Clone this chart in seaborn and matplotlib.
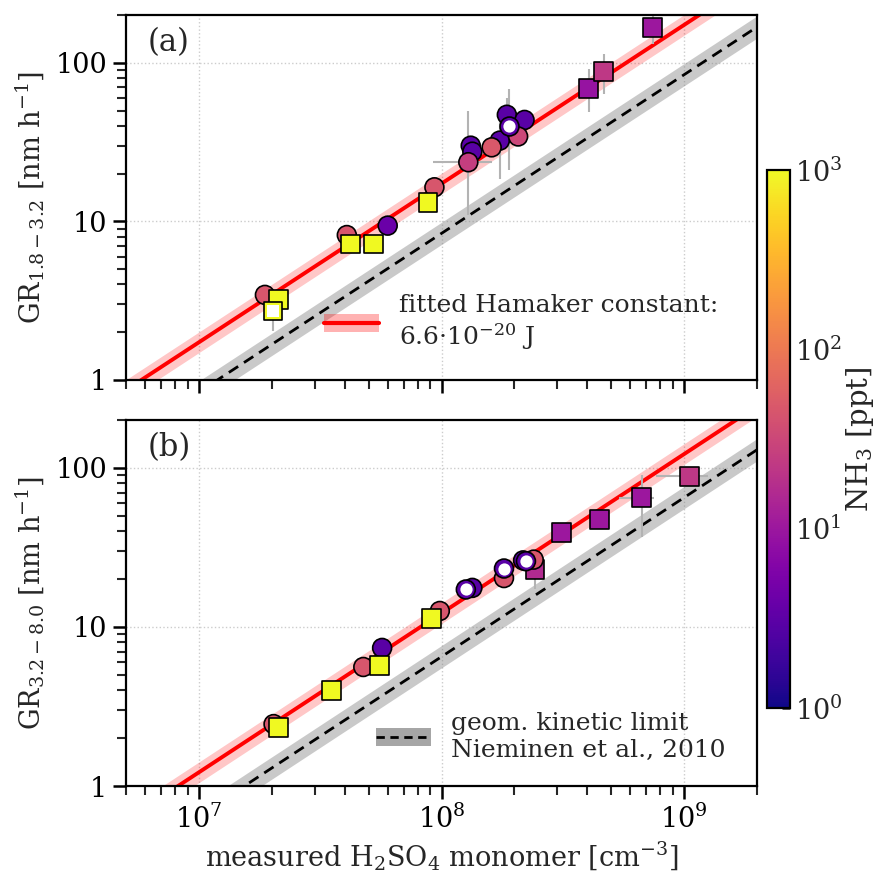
import numpy as np
import pandas as pd
import matplotlib
matplotlib.use("Agg")
import matplotlib.pyplot as plt
import seaborn as sns
from matplotlib.colors import LogNorm
from matplotlib.patches import Patch
from matplotlib.lines import Line2D
from matplotlib import ticker

# ---------------- data ----------------
# Panel (a): GR 1.8-3.2 nm
a_circ_h2so4 = [1.87e7, 4.07e7, 6.0e7, 9.35e7, 1.32e8, 1.34e8, 1.29e8, 1.74e8,
                1.61e8, 1.86e8, 2.2e8, 2.07e8]
a_circ_gr = [3.44, 8.2, 9.4, 16.4, 30.0, 27.5, 23.6, 32.3, 29.3, 47.0, 43.6, 34.3]
a_circ_nh3 = [45, 45, 4, 45, 3, 3, 26, 3, 48, 3, 3, 32]

a_open_circ_h2so4 = [1.89e8]
a_open_circ_gr = [40.0]
a_open_circ_nh3 = [3]

a_sqr_mid_h2so4 = [4.04e8, 4.67e8, 7.43e8]
a_sqr_mid_gr = [68.5, 88.0, 166.0]
a_sqr_mid_nh3 = [9, 22, 10]

a_sqr_hi_h2so4 = [2.12e7, 4.22e7, 5.26e7, 8.8e7]
a_sqr_hi_gr = [3.23, 7.2, 7.2, 13.1]
a_sqr_hi_nh3 = [1000, 1000, 1000, 1000]

a_open_sqr_h2so4 = [2.01e7]
a_open_sqr_gr = [2.73]
a_open_sqr_nh3 = [1000]

a_err_h2so4 = [1.29e8, 1.74e8, 1.89e8, 1.86e8, 2.01e7, 6.0e7, 4.04e8, 4.67e8, 7.43e8]
a_err_gr = [23.6, 32.3, 40.0, 47.0, 2.73, 9.4, 68.5, 88.0, 166.0]
a_err_gr_lo = [10.9, 18.5, 21.0, 30.0, 2.05, 8.4, 48.8, 63.7, 132.0]
a_err_gr_hi = [50.0, 47.7, 68.0, 60.0, 3.4, 11.0, 91.7, 114.0, 205.0]
a_err_h2so4_lo = [9.2e7, 1.74e8, 1.89e8, 1.86e8, 2.01e7, 6.0e7, 4.04e8, 4.67e8, 7.43e8]
a_err_h2so4_hi = [1.62e8, 1.74e8, 1.89e8, 1.86e8, 2.01e7, 6.0e7, 4.04e8, 4.67e8, 7.43e8]

# Panel (b): GR 3.2-8.0 nm
b_circ_h2so4 = [2.03e7, 4.76e7, 5.69e7, 9.84e7, 1.34e8, 1.81e8, 2.4e8, 2.17e8]
b_circ_gr = [2.45, 5.6, 7.38, 12.6, 17.6, 20.3, 26.5, 26.2]
b_circ_nh3 = [45, 45, 3, 45, 3, 45, 45, 3]

b_open_circ_h2so4 = [1.26e8, 1.81e8, 2.23e8]
b_open_circ_gr = [17.2, 23.3, 25.9]
b_open_circ_nh3 = [3, 3, 3]

b_sqr_mid_h2so4 = [2.43e8, 3.12e8, 4.49e8, 6.7e8, 1.05e9]
b_sqr_mid_gr = [23.0, 39.4, 47.3, 65.0, 88.7]
b_sqr_mid_nh3 = [16, 10, 10, 10, 22]

b_sqr_hi_h2so4 = [2.13e7, 3.51e7, 5.57e7, 9.06e7]
b_sqr_hi_gr = [2.32, 3.98, 5.74, 11.3]
b_sqr_hi_nh3 = [1000, 1000, 1000, 1000]

b_err_h2so4 = [2.43e8, 6.7e8, 1.05e9]
b_err_gr = [23.0, 65.0, 88.7]
b_err_gr_lo = [17.2, 37.0, 84.0]
b_err_gr_hi = [30.0, 90.7, 93.0]
b_err_h2so4_lo = [2.43e8, 5.4e8, 7.7e8]
b_err_h2so4_hi = [2.43e8, 7.5e8, 1.25e9]

# fitted / kinetic-limit proportionality constants [nm h^-1 per cm^-3]
fit_coef = {"a": 1.73e-7, "b": 1.22e-7}
kin_coef = {"a": 8.4e-8, "b": 6.5e-8}
fit_band = 10 ** 0.065
kin_band = 10 ** 0.07

panel_labels = ["(a)", "(b)"]
ylabels = [r"GR$_{1.8-3.2}$ [nm h$^{-1}$]", r"GR$_{3.2-8.0}$ [nm h$^{-1}$]"]
xlabel = r"measured H$_2$SO$_4$ monomer [cm$^{-3}$]"
cbar_label = r"NH$_3$ [ppt]"
fit_label = "fitted Hamaker constant:\n6.6·10$^{-20}$ J"
kin_label = "geom. kinetic limit\nNieminen et al., 2010"

# ---------------- style ----------------
sns.set_theme(style="ticks")
plt.rcParams["font.family"] = ["DejaVu Serif"]
plt.rcParams["mathtext.fontset"] = "dejavuserif"
plt.rcParams["axes.linewidth"] = 1.6
plt.rcParams["axes.edgecolor"] = "black"

FS = 19.5
LFS = 18
norm = LogNorm(1, 1000)
cmap = plt.get_cmap("plasma")
MS = 185

fig = plt.figure(figsize=(8.82, 8.71), dpi=100)
W, H = 882, 871
ax_a = fig.add_axes([126 / W, 1 - 380 / H, 631 / W, 365 / H])
ax_b = fig.add_axes([126 / W, 1 - 786 / H, 631 / W, 366 / H])
cax = fig.add_axes([767 / W, 1 - 708 / H, 23 / W, 538 / H])


def scat(ax, x, y, nh3, marker, z):
    df = pd.DataFrame({"x": x, "y": y, "nh3": nh3})
    sns.scatterplot(data=df, x="x", y="y", hue="nh3", hue_norm=norm,
                    palette="plasma", marker=marker, s=MS, edgecolor="black",
                    linewidth=1.2, legend=False, ax=ax, zorder=z)


def open_scat(ax, x, y, nh3, marker, z):
    scat(ax, x, y, nh3, marker, z)
    df = pd.DataFrame({"x": x, "y": y})
    sns.scatterplot(data=df, x="x", y="y", color="white", marker=marker,
                    s=MS * 0.42, linewidth=0, legend=False, ax=ax, zorder=z + 0.1)


def errs(ax, x, y, xlo, xhi, ylo, yhi):
    x = np.array(x); y = np.array(y)
    ax.errorbar(x, y, xerr=[x - np.array(xlo), np.array(xhi) - x],
                yerr=[y - np.array(ylo), np.array(yhi) - y], fmt="none",
                ecolor="#b3b3b3", elinewidth=1.5, capsize=0, zorder=2)


xline = np.logspace(6.5, 9.6, 60)
for key, ax in (("a", ax_a), ("b", ax_b)):
    ax.set_xscale("log")
    ax.set_yscale("log")
    fit = fit_coef[key] * xline
    kin = kin_coef[key] * xline
    ax.fill_between(xline, fit / fit_band, fit * fit_band, color="red",
                    alpha=0.22, linewidth=0, zorder=1)
    sns.lineplot(x=xline, y=fit, color="red", linewidth=2.8, ax=ax, zorder=1.5)
    ax.fill_between(xline, kin / kin_band, kin * kin_band, color="gray",
                    alpha=0.42, linewidth=0, zorder=1)
    sns.lineplot(x=xline, y=kin, color="black", linewidth=2.0, ax=ax,
                 zorder=1.5, linestyle=(0, (4, 2.5)))

# panel a points
errs(ax_a, a_err_h2so4, a_err_gr, a_err_h2so4_lo, a_err_h2so4_hi, a_err_gr_lo, a_err_gr_hi)
scat(ax_a, a_sqr_mid_h2so4, a_sqr_mid_gr, a_sqr_mid_nh3, "s", 3)
scat(ax_a, a_circ_h2so4, a_circ_gr, a_circ_nh3, "o", 4)
scat(ax_a, a_sqr_hi_h2so4, a_sqr_hi_gr, a_sqr_hi_nh3, "s", 5)
open_scat(ax_a, a_open_circ_h2so4, a_open_circ_gr, a_open_circ_nh3, "o", 6)
open_scat(ax_a, a_open_sqr_h2so4, a_open_sqr_gr, a_open_sqr_nh3, "s", 6)

# panel b points
errs(ax_b, b_err_h2so4, b_err_gr, b_err_h2so4_lo, b_err_h2so4_hi, b_err_gr_lo, b_err_gr_hi)
scat(ax_b, b_sqr_mid_h2so4, b_sqr_mid_gr, b_sqr_mid_nh3, "s", 3)
scat(ax_b, b_circ_h2so4, b_circ_gr, b_circ_nh3, "o", 4)
scat(ax_b, b_sqr_hi_h2so4, b_sqr_hi_gr, b_sqr_hi_nh3, "s", 5)
open_scat(ax_b, b_open_circ_h2so4, b_open_circ_gr, b_open_circ_nh3, "o", 6)

for i, ax in enumerate((ax_a, ax_b)):
    ax.set_xlim(5e6, 2e9)
    ax.set_ylim(1, 200)
    ax.grid(True, which="major", linestyle=":", color="#cccccc", linewidth=1.0)
    ax.yaxis.set_major_formatter(ticker.FuncFormatter(lambda v, p: f"{v:g}"))
    ax.tick_params(which="major", direction="out", length=9.5, width=1.8, pad=4,
                   labelsize=FS, colors="black", bottom=True, left=True)
    ax.tick_params(which="minor", direction="out", length=6.5, width=1.5,
                   bottom=True, left=True)
    ax.set_ylabel(ylabels[i], fontsize=FS, labelpad=6)
    ax.text(0.035, 0.925, panel_labels[i], transform=ax.transAxes,
            fontsize=22, va="center", ha="left")
    for sp in ax.spines.values():
        sp.set_visible(True)
        sp.set_linewidth(1.6)
        sp.set_color("black")

ax_a.set_xlabel("")
ax_a.tick_params(labelbottom=False)
ax_b.set_xlabel(xlabel, fontsize=FS, labelpad=4)

# legends
h_fit = (Patch(facecolor="red", alpha=0.3, linewidth=0),
         Line2D([], [], color="red", linewidth=3))
ax_a.legend([h_fit], [fit_label], loc="lower right", bbox_to_anchor=(0.975, 0.015),
            frameon=False, fontsize=LFS, handlelength=2.2, handletextpad=0.8)
h_kin = (Patch(facecolor="gray", alpha=0.7, linewidth=0),
         Line2D([], [], color="black", linewidth=2, linestyle=(0, (3, 2))))
ax_b.legend([h_kin], [kin_label], loc="lower right", bbox_to_anchor=(0.985, 0.005),
            frameon=False, fontsize=LFS, handlelength=2.2, handletextpad=0.8)

# colorbar
sm = matplotlib.cm.ScalarMappable(norm=norm, cmap=cmap)
cb = fig.colorbar(sm, cax=cax)
cb.outline.set_linewidth(1.6)
cb.ax.tick_params(which="major", direction="in", length=6, width=1.8, labelsize=FS)
cb.ax.tick_params(which="minor", direction="in", length=4, width=1.3)
cb.set_label(cbar_label, fontsize=21, labelpad=1)

fig.savefig("out.png", dpi=100)
